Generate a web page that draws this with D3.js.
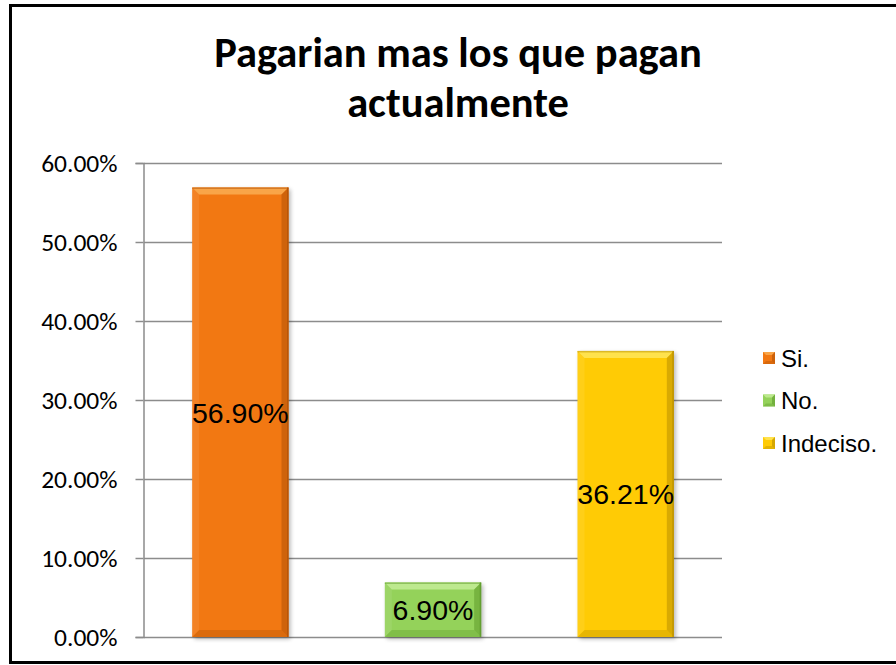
<!DOCTYPE html>
<html>
<head>
<meta charset="utf-8">
<script src="https://cdn.jsdelivr.net/npm/d3@7/dist/d3.min.js"></script>
<style>
  html, body { margin: 0; padding: 0; background: #ffffff; }
  svg { display: block; }
</style>
</head>
<body>
<svg id="chart" width="896" height="665"></svg>
<script>
// Survey answers and their shares
const categories = ["Si.", "No.", "Indeciso."];
const values = [0.569, 0.069, 0.3621];
const valueLabels = ["56.90%", "6.90%", "36.21%"];
const yTicks = [0, 0.1, 0.2, 0.3, 0.4, 0.5, 0.6];
const titleLines = ["Pagarian mas los que pagan", "actualmente"];

// Fill palette per answer: base, highlight, shade
const palette = [
  { base: "#F27812", light: "#F9A548", dark: "#B35205" },
  { base: "#94D25A", light: "#BDE98E", dark: "#5E9A2C" },
  { base: "#FFCB05", light: "#FFE24D", dark: "#B98F00" }
];

const svg = d3.select("#chart");
const W = 896, H = 665;
const plot = { left: 144, right: 722, top: 163, bottom: 637 };

const defs = svg.append("defs");
defs.append("filter").attr("id", "shadow").attr("x", "-20%").attr("y", "-20%")
  .attr("width", "140%").attr("height", "140%")
  .append("feGaussianBlur").attr("stdDeviation", 2);

// Outer frame
svg.append("rect")
  .attr("x", 10.5).attr("y", 5.5)
  .attr("width", W + 10).attr("height", 657)
  .attr("fill", "#ffffff")
  .attr("stroke", "#000000").attr("stroke-width", 3);

// Title
svg.append("g").selectAll("text").data(titleLines).join("text")
  .attr("x", 458)
  .attr("y", (d, i) => 67 + i * 50)
  .attr("text-anchor", "middle")
  .attr("font-family", "Carlito, Calibri, Lato, sans-serif")
  .attr("font-weight", "bold")
  .attr("font-size", 42.5)
  .attr("fill", "#000")
  .text(d => d);

const x = d3.scaleBand().domain(categories)
  .range([plot.left, plot.right]).paddingInner(0.5).paddingOuter(0.25);
const y = d3.scaleLinear().domain([0, 0.6]).range([plot.bottom, plot.top]);

// Gridlines
svg.append("g").selectAll("line").data(yTicks).join("line")
  .attr("x1", plot.left).attr("x2", plot.right)
  .attr("y1", d => Math.round(y(d)) + 0.5).attr("y2", d => Math.round(y(d)) + 0.5)
  .attr("stroke", "#8c8c8c").attr("stroke-width", 1.5);

// Y axis
const yAxis = d3.axisLeft(y).tickValues(yTicks).tickFormat(d3.format(".2%"))
  .tickSize(8).tickPadding(18);
const ya = svg.append("g").attr("transform", `translate(${plot.left - 0.5},0)`).call(yAxis);
ya.select(".domain").attr("stroke", "#8c8c8c").attr("stroke-width", 1.5);
ya.selectAll(".tick line").attr("stroke", "#8c8c8c").attr("stroke-width", 1.5);
ya.selectAll(".tick text")
  .attr("font-family", "Carlito, Calibri, Lato, sans-serif")
  .attr("font-size", 25.5).attr("fill", "#000");

// Beveled bar shape
function bevelBar(g, x0, y0, w, h, col, b) {
  g.append("rect").attr("x", x0 + 2).attr("y", y0 + 2).attr("width", w).attr("height", h)
    .attr("fill", "#000").attr("opacity", 0.28).attr("filter", "url(#shadow)");
  g.append("rect").attr("x", x0).attr("y", y0).attr("width", w).attr("height", h).attr("fill", col.base);
  const x1 = x0 + w, y1 = y0 + h;
  const bb = Math.min(b, h / 2, w / 2);
  // top
  g.append("polygon").attr("points", [[x0, y0], [x1, y0], [x1 - bb, y0 + bb], [x0 + bb, y0 + bb]].join(" "))
    .attr("fill", col.light);
  // left
  g.append("polygon").attr("points", [[x0, y0], [x0 + bb, y0 + bb], [x0 + bb, y1 - bb], [x0, y1]].join(" "))
    .attr("fill", "#ffffff").attr("opacity", 0.08);
  // right
  g.append("polygon").attr("points", [[x1, y0], [x1, y1], [x1 - bb, y1 - bb], [x1 - bb, y0 + bb]].join(" "))
    .attr("fill", col.dark).attr("opacity", 0.55);
  // bottom
  g.append("polygon").attr("points", [[x0, y1], [x1, y1], [x1 - bb, y1 - bb], [x0 + bb, y1 - bb]].join(" "))
    .attr("fill", col.dark).attr("opacity", 0.35);
  // thin edge lines
  g.append("rect").attr("x", x1 - 1.5).attr("y", y0).attr("width", 1.5).attr("height", h)
    .attr("fill", col.dark).attr("opacity", 0.8);
  g.append("rect").attr("x", x0).attr("y", y0).attr("width", w).attr("height", 1.5)
    .attr("fill", col.dark).attr("opacity", 0.5);
}

const bars = svg.append("g");
categories.forEach((c, i) => {
  const g = bars.append("g");
  bevelBar(g, x(c), y(values[i]), x.bandwidth(), y(0) - y(values[i]), palette[i], 7);
});

// Value labels inside bars
svg.append("g").selectAll("text").data(categories).join("text")
  .attr("x", d => x(d) + x.bandwidth() / 2)
  .attr("y", (d, i) => (y(values[i]) + y(0)) / 2)
  .attr("dy", "0.36em")
  .attr("text-anchor", "middle")
  .attr("font-family", "'Liberation Sans', Arial, sans-serif")
  .attr("font-size", 28.5)
  .attr("fill", "#000")
  .text((d, i) => valueLabels[i]);

// Legend
const legend = svg.append("g");
categories.forEach((c, i) => {
  const cy = 358 + i * 42.5;
  const g = legend.append("g");
  g.append("rect").attr("x", 763).attr("y", cy - 6).attr("width", 12).attr("height", 12).attr("fill", palette[i].base);
  g.append("polygon").attr("points", [[763, cy - 6], [775, cy - 6], [772, cy - 3], [766, cy - 3]].join(" ")).attr("fill", palette[i].light);
  g.append("polygon").attr("points", [[775, cy - 6], [775, cy + 6], [772, cy + 3], [772, cy - 3]].join(" ")).attr("fill", palette[i].dark).attr("opacity", 0.6);
  g.append("polygon").attr("points", [[763, cy + 6], [775, cy + 6], [772, cy + 3], [766, cy + 3]].join(" ")).attr("fill", palette[i].dark).attr("opacity", 0.4);
  g.append("text").attr("x", 781).attr("y", cy).attr("dy", "0.36em")
    .attr("font-family", "'Liberation Sans', Arial, sans-serif")
    .attr("font-size", 24).attr("fill", "#000").text(c);
});
</script>
</body>
</html>
